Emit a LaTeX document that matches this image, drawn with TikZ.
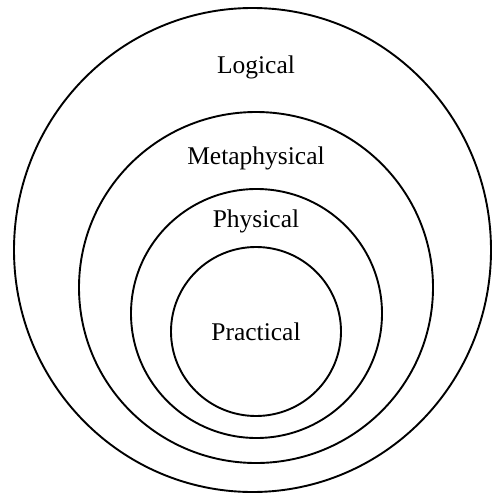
\documentclass[tikz,border=0pt]{standalone}
\usepackage{fontspec}
\setmainfont{Liberation Serif}
\usepackage{tikz}
\usetikzlibrary{positioning}

\tikzset{
  ring/.style={line width=1.9pt, black},
  ringlabel/.style={font=\fontsize{25.5}{28}\selectfont, inner sep=0pt}
}

\begin{document}
\begin{tikzpicture}[x=1pt, y=1pt]
  \useasboundingbox (0, 0) rectangle (491, -493);

  % nested rings, outer to inner
  \draw[ring] (252.5, -250) ellipse (238.5 and 242);
  \draw[ring] (256, -287.5) ellipse (177 and 175.5);
  \draw[ring] (256.5, -313.5) ellipse (125.5 and 124.5);
  \draw[ring] (256, -331.5) ellipse (85 and 84.5);

  \node[ringlabel] (logical) at (256, -67) {Logical};
  \node[ringlabel] (metaphysical) at (256, -158) {Metaphysical};
  \node[ringlabel] (physical) at (256, -221) {Physical};
  \node[ringlabel] (practical) at (256, -332) {Practical};
\end{tikzpicture}
\end{document}
